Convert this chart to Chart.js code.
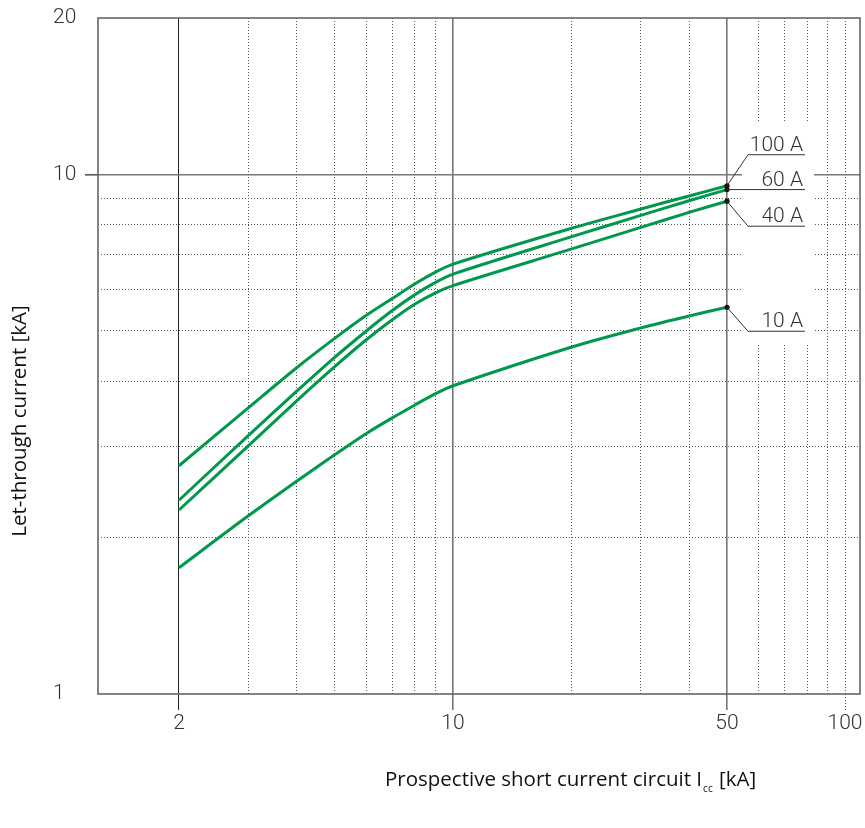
<!DOCTYPE html>
<html>
<head>
<meta charset="utf-8">
<script src="https://cdn.jsdelivr.net/npm/chart.js@4.4.1/dist/chart.umd.min.js"></script>
<style>
  html, body { margin: 0; padding: 0; background: #fff; }
  #wrap { position: relative; width: 865px; height: 828px; }
</style>
</head>
<body>
<div id="wrap"><canvas id="myChart"></canvas></div>
<script>
// ---- values ----
var iccValues = [2, 3, 4, 5, 6, 7, 8, 9, 10, 20, 30, 40, 50];      // prospective current [kA]
var ratingNames = ['100 A', '60 A', '40 A', '10 A'];
var let100A = [2.75, 3.55, 4.25, 4.84, 5.35, 5.77, 6.16, 6.48, 6.72, 7.87, 8.57, 9.09, 9.51];
var let60A  = [2.36, 3.14, 3.83, 4.45, 4.99, 5.47, 5.87, 6.19, 6.43, 7.58, 8.33, 8.90, 9.35];
var let40A  = [2.26, 3.00, 3.67, 4.27, 4.80, 5.25, 5.63, 5.91, 6.11, 7.18, 7.90, 8.45, 8.88];
var let10A  = [1.75, 2.20, 2.57, 2.89, 3.17, 3.40, 3.60, 3.78, 3.92, 4.65, 5.06, 5.34, 5.55];

// ---- ticks / grid ----
var xGridVals  = [2, 3, 4, 5, 6, 7, 8, 9, 10, 20, 30, 40, 50, 60, 70, 80, 90, 100];
var xMajorVals = [2, 10, 50];
var xLabelVals = [2, 10, 50, 100];
var yGridVals  = [1, 2, 3, 4, 5, 6, 7, 8, 9, 10, 20];
var yLabelVals = [1, 10, 20];

// label placement next to the curve ends (offsets in px from the end point)
var labelShift = [-31, 0, 25, 24];

var GREEN = '#00984a';
var TICK_FONT = { family: 'Roboto, "Liberation Sans", sans-serif', size: 21, weight: '300' };

function isIn(list, v) { return list.indexOf(v) >= 0; }

// grid helpers
function xGridColor(c) {
  var v = c.tick ? c.tick.value : 0;
  if (v === 2) return '#222';
  if (isIn(xMajorVals, v)) return '#777';
  return '#555';
}
function xGridWidth(c) {
  var v = c.tick ? c.tick.value : 0;
  if (v === 10 || v === 50) return 1.6;
  return 1;
}
function xDash(c) {
  if (!c.tick) return [];
  return isIn(xMajorVals, c.tick.value) ? [] : [1, 2];
}
function xTickColor(c) {
  var v = c.tick ? c.tick.value : 0;
  if (v === 2) return '#222';
  if (isIn(xMajorVals, v)) return '#777';
  if (v === 100) return '#555';
  return 'rgba(0,0,0,0)';
}
function yGridColor(c) {
  var v = c.tick ? c.tick.value : 0;
  if (v === 1 || v === 20) return 'rgba(0,0,0,0)';
  if (v === 10) return '#777';
  return '#555';
}

// plugin: white gap behind the rating labels + plot frame
var backPlugin = {
  id: 'backPlugin',
  beforeDatasetsDraw: function(chart) {
    var ctx = chart.ctx, a = chart.chartArea;
    var x50 = chart.scales.x.getPixelForValue(50);
    ctx.save();
    ctx.fillStyle = '#fff';
    ctx.fillRect(x50 + 15, 122, 72, 223);
    ctx.strokeStyle = '#666';
    ctx.lineWidth = 1.6;
    ctx.strokeRect(a.left, a.top, a.right - a.left, a.bottom - a.top);
    ctx.restore();
  }
};

// plugin: leader lines and rating labels at the end of each curve
var labelPlugin = {
  id: 'labelPlugin',
  afterDatasetsDraw: function(chart) {
    var ctx = chart.ctx;
    ctx.save();
    ctx.font = '300 21px Roboto, "Liberation Sans", sans-serif';
    ctx.fillStyle = '#333';
    ctx.strokeStyle = '#333';
    ctx.lineWidth = 1;
    ctx.textAlign = 'right';
    ctx.textBaseline = 'alphabetic';
    chart.data.datasets.forEach(function(ds, i) {
      var meta = chart.getDatasetMeta(i);
      var pt = meta.data[meta.data.length - 1];
      var lineY = pt.y + labelShift[i];
      var kneeX = pt.x + 21;
      var endX = pt.x + 78;
      ctx.beginPath();
      ctx.moveTo(pt.x, pt.y);
      if (labelShift[i] === 0) {
        ctx.lineTo(endX, lineY);
      } else {
        ctx.lineTo(kneeX, lineY);
        ctx.lineTo(endX, lineY);
      }
      ctx.stroke();
      ctx.fillText(ds.label, endX - 2, lineY - 4);
    });
    ctx.restore();
  }
};

// plugin: axis titles (x title has a subscript)
var titlePlugin = {
  id: 'titlePlugin',
  afterDraw: function(chart) {
    var ctx = chart.ctx;
    var fam = '"Open Sans", "Noto Sans", sans-serif';
    ctx.save();
    ctx.fillStyle = '#111';
    // y title
    ctx.translate(20, 421);
    ctx.rotate(-Math.PI / 2);
    ctx.font = '20.5px ' + fam;
    ctx.textAlign = 'center';
    ctx.textBaseline = 'middle';
    ctx.fillText('Let-through current [kA]', 0, 0);
    ctx.restore();

    ctx.save();
    ctx.fillStyle = '#111';
    ctx.textAlign = 'left';
    ctx.textBaseline = 'alphabetic';
    var x = 385, y = 786;
    var main = 'Prospective short current circuit I';
    ctx.font = '20.5px ' + fam;
    ctx.fillText(main, x, y);
    x += ctx.measureText(main).width + 1;
    ctx.font = '10px ' + fam;
    ctx.fillText('cc', x, y + 6);
    x += ctx.measureText('cc').width + 1;
    ctx.font = '20.5px ' + fam;
    ctx.fillText(' [kA]', x, y);
    ctx.restore();
  }
};

function makeSet(label, vals) {
  return {
    label: label,
    data: vals,
    borderColor: GREEN,
    borderWidth: 3,
    fill: false,
    tension: 0.3,
    pointRadius: function(c) { return c.dataIndex === vals.length - 1 ? 2.6 : 0; },
    pointBackgroundColor: '#111',
    pointBorderWidth: 0,
    pointHoverRadius: 0
  };
}

var ctx = document.getElementById('myChart').getContext('2d');
var myChart = new Chart(ctx, {
  type: 'line',
  data: {
    labels: iccValues,
    datasets: [
      makeSet(ratingNames[0], let100A),
      makeSet(ratingNames[1], let60A),
      makeSet(ratingNames[2], let40A),
      makeSet(ratingNames[3], let10A)
    ]
  },
  options: {
    responsive: true,
    maintainAspectRatio: false,
    animation: false,
    layout: { padding: { left: 53, top: 18, right: 5, bottom: 0 } },
    plugins: {
      legend: { display: false },
      tooltip: { enabled: false }
    },
    scales: {
      x: {
        type: 'logarithmic',
        min: 1.243,
        max: 109.2,
        afterBuildTicks: function(s) { s.ticks = xGridVals.map(function(v) { return { value: v }; }); },
        afterFit: function(s) { s.height = 134; },
        ticks: {
          autoSkip: false, maxRotation: 0, minRotation: 0, padding: 1,
          color: '#333', font: TICK_FONT,
          callback: function(v) { return isIn(xLabelVals, v) ? String(v) : ''; }
        },
        grid: {
          color: xGridColor, lineWidth: xGridWidth,
          tickLength: 16, tickColor: xTickColor, tickWidth: xGridWidth,
          tickBorderDash: function(c) { return (c.tick && c.tick.value === 100) ? [1, 2] : []; }
        },
        border: { display: false, dash: xDash }
      },
      y: {
        type: 'logarithmic',
        min: 1,
        max: 20,
        afterBuildTicks: function(s) { s.ticks = yGridVals.map(function(v) { return { value: v }; }); },
        afterFit: function(s) { s.width = 45; },
        ticks: {
          autoSkip: false, crossAlign: 'far', padding: 4,
          color: '#333', font: TICK_FONT,
          callback: function(v) { return isIn(yLabelVals, v) ? String(v) : ''; }
        },
        grid: {
          color: yGridColor,
          lineWidth: function(c) { return (c.tick && c.tick.value === 10) ? 1.6 : 1; },
          tickLength: 13,
          tickColor: function(c) { return (c.tick && c.tick.value === 10) ? '#555' : 'rgba(0,0,0,0)'; }
        },
        border: {
          display: false,
          dash: function(c) { return (c.tick && c.tick.value !== 10) ? [1, 2] : []; }
        }
      }
    }
  },
  plugins: [backPlugin, labelPlugin, titlePlugin]
});
console.log('chart drawn ' + myChart.data.datasets.length);
</script>
</body>
</html>
